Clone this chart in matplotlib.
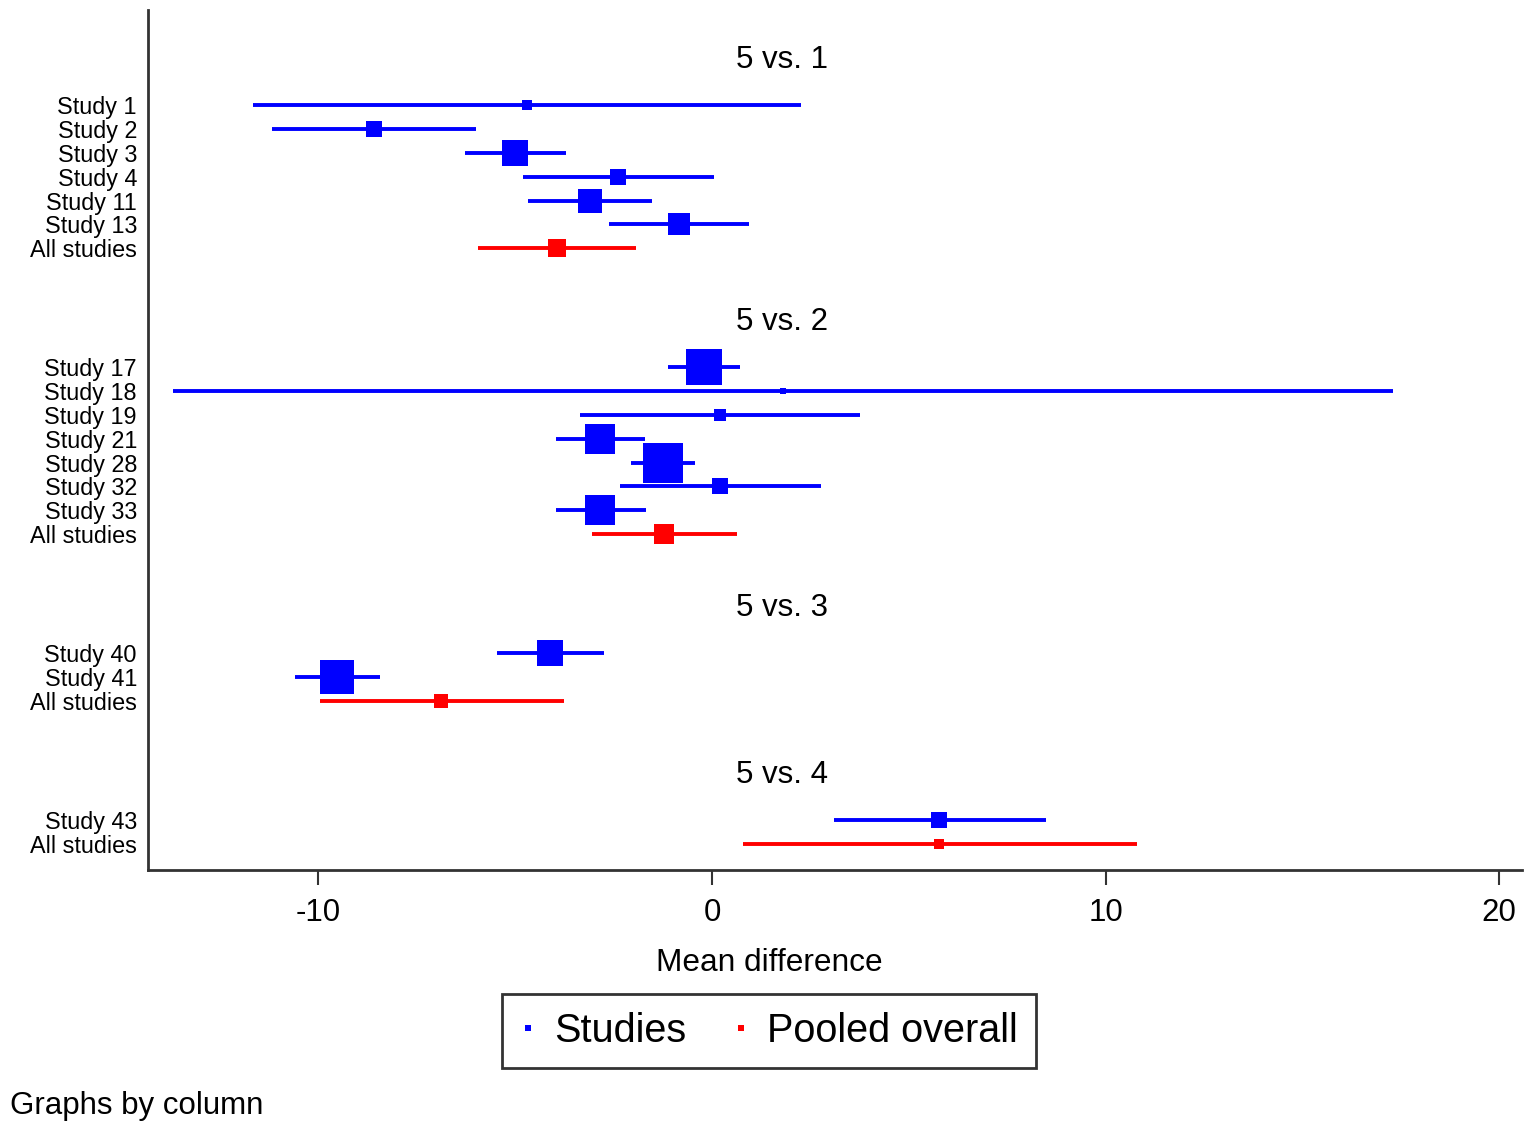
import matplotlib
matplotlib.use("Agg")
import matplotlib.pyplot as plt
from matplotlib.lines import Line2D

plt.rcParams['font.family'] = ['Liberation Sans', 'DejaVu Sans']
plt.rcParams['axes.unicode_minus'] = False

# Comparison groups
groups = ['5 vs. 1', '5 vs. 2', '5 vs. 3', '5 vs. 4']

# Study labels per group (last one is the pooled estimate)
labels_1 = ['Study 1', 'Study 2', 'Study 3', 'Study 4', 'Study 11', 'Study 13', 'All studies']
labels_2 = ['Study 17', 'Study 18', 'Study 19', 'Study 21', 'Study 28', 'Study 32', 'Study 33', 'All studies']
labels_3 = ['Study 40', 'Study 41', 'All studies']
labels_4 = ['Study 43', 'All studies']

# Mean differences, lower and upper CI
md_1 = [-4.70, -8.59, -5.00, -2.39, -3.10, -0.84, -3.94]
lo_1 = [-11.66, -11.18, -6.28, -4.80, -4.68, -2.62, -5.95]
hi_1 = [2.26, -6.00, -3.71, 0.05, -1.52, 0.94, -1.93]

md_2 = [-0.20, 1.80, 0.20, -2.85, -1.25, 0.20, -2.85, -1.22]
lo_2 = [-1.12, -13.70, -3.35, -3.96, -2.06, -2.34, -3.96, -3.05]
hi_2 = [0.71, 17.31, 3.76, -1.70, -0.43, 2.77, -1.68, 0.64]

md_3 = [-4.12, -9.53, -6.89]
lo_3 = [-5.46, -10.60, -9.96]
hi_3 = [-2.74, -8.44, -3.76]

md_4 = [5.77, 5.77]
lo_4 = [3.10, 0.79]
hi_4 = [8.49, 10.80]

# Relative weights (box area)
wt_1 = [6, 17, 43, 17, 34, 29, 21]
wt_2 = [77, 2.1, 10, 54, 100, 17, 54, 26]
wt_3 = [40, 65, 13]
wt_4 = [15, 7]

data = [
    (labels_1, md_1, lo_1, hi_1, wt_1),
    (labels_2, md_2, lo_2, hi_2, wt_2),
    (labels_3, md_3, lo_3, hi_3, wt_3),
    (labels_4, md_4, lo_4, hi_4, wt_4),
]

fig = plt.figure(figsize=(15.35, 11.35), dpi=100)
ax = fig.add_axes([148 / 1535, 1 - 870 / 1135, 1374 / 1535, 860 / 1135])

yticks = []
ylabels = []
pos = 0
for title, (labs, md, lo, hi, wt) in zip(groups, data):
    ax.text(0.4614, pos - 1.9, title, transform=ax.get_yaxis_transform(),
            ha='center', va='center', fontsize=22.5)
    n = len(labs)
    for i in range(n):
        y = pos + i
        col = 'red' if i == n - 1 else 'blue'
        ax.plot([lo[i], hi[i]], [y, y], color=col, lw=2.8, solid_capstyle='butt')
        ms = 29.5 * (wt[i] / 100) ** 0.5
        ax.plot(md[i], y, marker='s', color=col, ms=ms, mew=0)
        yticks.append(y)
        ylabels.append(labs[i])
    pos += n + 4

ax.set_xlim(-14.33, 20.58)
ax.set_ylim(32.1, -4)
ax.set_xticks([-10, 0, 10, 20])
ax.tick_params(axis='x', labelsize=22.5, length=11, width=1.5, pad=9, color='#333333')
ax.set_yticks(yticks)
ax.set_yticklabels(ylabels)
ax.tick_params(axis='y', labelsize=16.8, length=0, pad=8)

for side in ['top', 'right']:
    ax.spines[side].set_visible(False)
for side in ['left', 'bottom']:
    ax.spines[side].set_linewidth(2)
    ax.spines[side].set_color('#333333')

fig.text(769 / 1535, 1 - 963 / 1135, 'Mean difference', ha='center', va='center', fontsize=22.8)

handles = [
    Line2D([], [], ls='none', marker='s', color='blue', ms=4, mew=0, label='Studies'),
    Line2D([], [], ls='none', marker='s', color='red', ms=4, mew=0, label='Pooled overall'),
]
leg = fig.legend(handles=handles, loc='center', bbox_to_anchor=(769 / 1535, 1 - 1031 / 1135),
                 ncol=2, fontsize=28.5, frameon=True, fancybox=False, edgecolor='black',
                 handlelength=0.4, handletextpad=0.45, columnspacing=1.2, borderpad=0.45)
leg.get_frame().set_linewidth(2)

fig.text(10 / 1535, 1 - 1106 / 1135, 'Graphs by column', ha='left', va='center', fontsize=22.5)

fig.savefig('out.png', dpi=100)
